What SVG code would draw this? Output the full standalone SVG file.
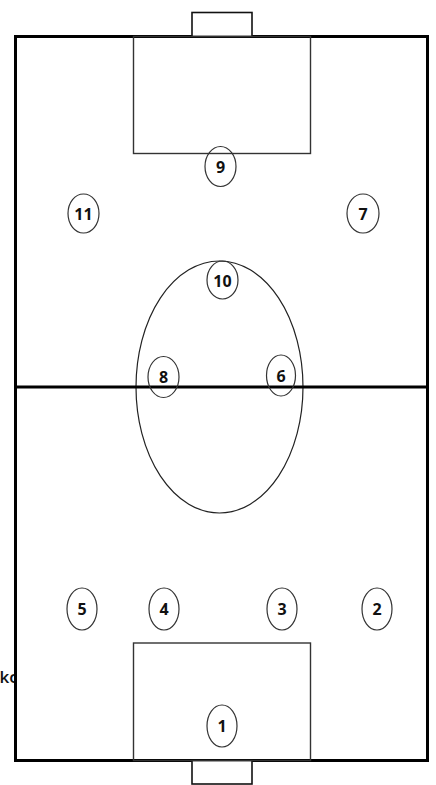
<svg xmlns="http://www.w3.org/2000/svg" width="436" height="785" viewBox="0 0 436 785">
<style>
.field{fill:#fff;stroke:#000;stroke-width:3}
.line{stroke:#000;stroke-width:3;fill:none}
.box{fill:none;stroke:#333;stroke-width:1.4}
.goal{fill:#fff;stroke:#111;stroke-width:1.6}
.p ellipse{fill:none;stroke:#333;stroke-width:1.2}
.p text{font-family:"Open Sans","Noto Sans",sans-serif;font-weight:700;font-size:16px;fill:#111;text-anchor:middle}
.lbl{font-family:"Open Sans","Noto Sans",sans-serif;font-weight:600;font-size:17px;fill:#111}
</style>
<rect width="436" height="785" fill="#fff"/>
<text class="lbl" x="-0.5" y="683">kc</text>
<g id="field">
<rect class="field" x="15.5" y="36.5" width="412" height="724"/>
<rect class="goal" x="192" y="12.5" width="60" height="24"/>
<rect class="goal" x="192" y="760.5" width="60" height="23.5"/>
<rect class="box" x="133.5" y="36.5" width="177" height="117"/>
<rect class="box" x="133.5" y="643" width="177" height="117.5"/>
<ellipse cx="219.5" cy="387" rx="83.5" ry="126" fill="none" stroke="#222" stroke-width="1.2"/>
<line class="line" x1="15" y1="387" x2="428" y2="387"/>
</g>
<g id="connectors"></g>
<g id="p9" class="p"><ellipse cx="220.5" cy="166.5" rx="15.5" ry="20"/><text x="220.5" y="172.5">9</text></g>
<g id="p11" class="p"><ellipse cx="83.5" cy="213.5" rx="15.5" ry="19.5"/><text x="83.5" y="219.5">11</text></g>
<g id="p7" class="p"><ellipse cx="363" cy="213.5" rx="16" ry="19.5"/><text x="363" y="219.5">7</text></g>
<g id="p10" class="p"><ellipse cx="222.5" cy="280" rx="15.5" ry="19"/><text x="222.5" y="287">10</text></g>
<g id="p8" class="p"><ellipse cx="163.5" cy="377" rx="15.5" ry="20.5"/><text x="163.5" y="383">8</text></g>
<g id="p6" class="p"><ellipse cx="281" cy="375.5" rx="14.5" ry="20.5"/><text x="281" y="381.5">6</text></g>
<g id="p5" class="p"><ellipse cx="82" cy="609" rx="15" ry="21"/><text x="82" y="615">5</text></g>
<g id="p4" class="p"><ellipse cx="164" cy="609" rx="15" ry="21"/><text x="164" y="615">4</text></g>
<g id="p3" class="p"><ellipse cx="282" cy="609" rx="15" ry="21"/><text x="282" y="615">3</text></g>
<g id="p2" class="p"><ellipse cx="377" cy="609" rx="15" ry="21"/><text x="377" y="615">2</text></g>
<g id="p1" class="p"><ellipse cx="222" cy="726" rx="15" ry="21"/><text x="222" y="732">1</text></g>
</svg>
